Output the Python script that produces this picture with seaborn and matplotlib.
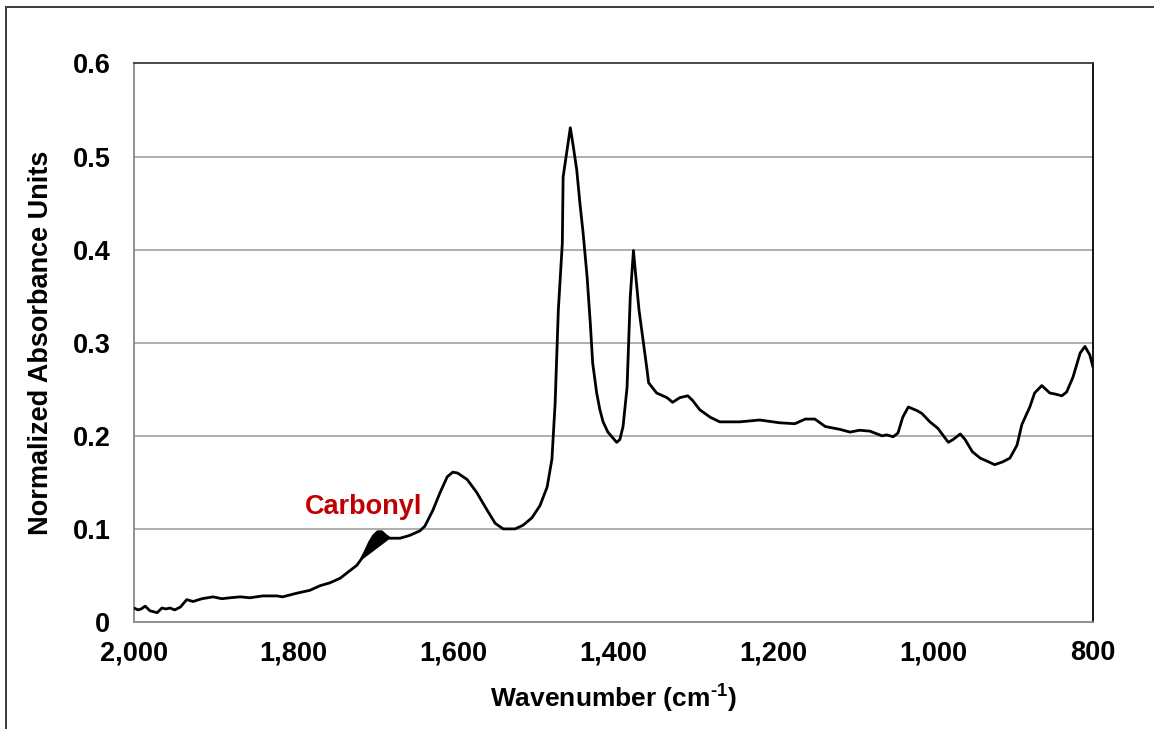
import numpy as np
import pandas as pd
import matplotlib
matplotlib.use("Agg")
import matplotlib.pyplot as plt
import matplotlib.patches as mpatches
from matplotlib.ticker import FuncFormatter
import seaborn as sns

# FTIR absorbance spectrum (wavenumber in cm-1, normalized absorbance)
wavenumber = [
    2000, 1995, 1991, 1986, 1980, 1971, 1965, 1960, 1955, 1949, 1942, 1934,
    1926, 1915, 1901, 1890, 1880, 1867, 1855, 1839, 1821, 1814, 1796, 1780,
    1767, 1755, 1742, 1730, 1721, 1716, 1711, 1705, 1700, 1695, 1690, 1685,
    1680, 1667,
    1655, 1642, 1636, 1626, 1617, 1608, 1601, 1595, 1583, 1571, 1558, 1548,
    1538, 1523, 1513, 1502, 1492, 1483, 1477, 1473, 1469, 1464, 1463, 1458,
    1454, 1451, 1446, 1442, 1438, 1433, 1429, 1426, 1421, 1417, 1413, 1407,
    1401, 1396, 1392, 1388, 1383, 1379, 1375, 1372, 1368, 1363, 1358, 1356,
    1346, 1333, 1326, 1317, 1307, 1301, 1292, 1279, 1267, 1242, 1217, 1192,
    1173, 1160, 1148, 1135, 1117, 1104, 1092, 1079, 1064, 1058, 1050, 1044,
    1038, 1031, 1020, 1014, 1004, 994, 981, 975, 966, 960, 951, 941,
    933, 923, 913, 904, 895, 889, 879, 873, 864, 854, 848, 839,
    833, 825, 816, 810, 804, 800,
]
absorbance = [
    0.015, 0.013, 0.014, 0.017, 0.012, 0.010, 0.015, 0.014, 0.015, 0.013, 0.016, 0.024,
    0.022, 0.025, 0.027, 0.025, 0.026, 0.027, 0.026, 0.028, 0.028, 0.027, 0.031, 0.034,
    0.039, 0.042, 0.047, 0.055, 0.061, 0.067, 0.075, 0.086, 0.093, 0.097, 0.097, 0.093,
    0.090, 0.090,
    0.093, 0.098, 0.103, 0.120, 0.139, 0.156, 0.161, 0.160, 0.153, 0.139, 0.120, 0.106,
    0.100, 0.100, 0.104, 0.112, 0.125, 0.145, 0.175, 0.235, 0.335, 0.407, 0.478, 0.507,
    0.531, 0.515, 0.486, 0.450, 0.418, 0.371, 0.321, 0.278, 0.246, 0.228, 0.215, 0.204,
    0.198, 0.193, 0.196, 0.210, 0.252, 0.349, 0.399, 0.371, 0.335, 0.303, 0.271, 0.257,
    0.246, 0.241, 0.236, 0.241, 0.243, 0.238, 0.228, 0.220, 0.215, 0.215, 0.217, 0.214,
    0.213, 0.218, 0.218, 0.210, 0.207, 0.204, 0.206, 0.205, 0.200, 0.201, 0.199, 0.203,
    0.220, 0.231, 0.227, 0.224, 0.215, 0.208, 0.193, 0.196, 0.202, 0.196, 0.183, 0.176,
    0.173, 0.169, 0.172, 0.176, 0.190, 0.212, 0.231, 0.246, 0.254, 0.246, 0.245, 0.243,
    0.247, 0.263, 0.289, 0.296, 0.287, 0.274,
]

# Carbonyl band: area between the spectrum and a straight baseline
carbonyl_base_w = [1717, 1680]
carbonyl_base_a = [0.066, 0.090]
carbonyl_label = "Carbonyl"
carbonyl_label_pos = (1713, 0.124)

x_ticks = [2000, 1800, 1600, 1400, 1200, 1000, 800]
y_ticks = [0, 0.1, 0.2, 0.3, 0.4, 0.5, 0.6]

sns.set_theme(style="white")
plt.rcParams["font.family"] = ["Liberation Sans", "DejaVu Sans"]
plt.rcParams["text.color"] = "black"
plt.rcParams["axes.labelcolor"] = "black"
plt.rcParams["xtick.labelcolor"] = "black"
plt.rcParams["ytick.labelcolor"] = "black"
plt.rcParams["mathtext.fontset"] = "custom"
plt.rcParams["mathtext.rm"] = "Liberation Sans:bold"
plt.rcParams["mathtext.bf"] = "Liberation Sans:bold"
plt.rcParams["mathtext.default"] = "bf"

df = pd.DataFrame({"wavenumber": wavenumber, "absorbance": absorbance})

fig = plt.figure(figsize=(11.54, 7.29), dpi=100)
ax = fig.add_axes([0.1161, 0.1468, 0.8310, 0.7661])

# outer chart frame
fig.patches.append(mpatches.Rectangle((0.0052, -0.2), 1.5, 1.1904,
                                      transform=fig.transFigure, fill=False,
                                      edgecolor="#3a3a3a", lw=1.4))

for yv in y_ticks[1:-1]:
    ax.axhline(yv, color="#999999", lw=1.1, zorder=1)

sns.lineplot(data=df, x="wavenumber", y="absorbance", sort=False,
             estimator=None, color="black", lw=2.0, ax=ax, zorder=3)

# carbonyl fill polygon
w_arr = np.array(wavenumber, dtype=float)
a_arr = np.array(absorbance, dtype=float)
hi, lo = carbonyl_base_w
mask = (w_arr < hi) & (w_arr > lo)
poly_x = [hi] + list(w_arr[mask]) + [lo]
poly_y = [carbonyl_base_a[0]] + list(a_arr[mask]) + [carbonyl_base_a[1]]
ax.fill(poly_x, poly_y, color="black", zorder=3, lw=0.8, edgecolor="black")

ax.text(carbonyl_label_pos[0], carbonyl_label_pos[1], carbonyl_label,
        color="#C00000", fontsize=19.5, fontweight="bold",
        ha="center", va="center")

ax.set_xlim(2000, 800)
ax.set_ylim(0, 0.6)
ax.set_xticks(x_ticks)
ax.set_yticks(y_ticks)
ax.xaxis.set_major_formatter(FuncFormatter(lambda v, p: f"{v:,.0f}"))
ax.yaxis.set_major_formatter(FuncFormatter(lambda v, p: "0" if abs(v) < 1e-9 else f"{v:.1f}"))
ax.tick_params(axis="both", which="major", direction="out", length=5,
               width=1.1, color="#888888", labelcolor="black", labelsize=19.5)
ax.tick_params(axis="x", pad=8)
ax.tick_params(axis="y", pad=12)
for lab in ax.get_xticklabels() + ax.get_yticklabels():
    lab.set_fontweight("bold")

ax.set_xlabel("Wavenumber (cm$^{\\text{-1}}$)", fontsize=19, fontweight="bold",
              labelpad=12, color="black")
ax.set_ylabel("Normalized Absorbance Units", fontsize=19.5, fontweight="bold",
              labelpad=13, color="black")

ax.spines["left"].set_color("#888888")
ax.spines["bottom"].set_color("#888888")
ax.spines["top"].set_color("#3a3a3a")
ax.spines["right"].set_color("#000000")
for s in ax.spines.values():
    s.set_visible(True)
    s.set_linewidth(1.3)

fig.savefig("out.png", dpi=100, facecolor="white")
